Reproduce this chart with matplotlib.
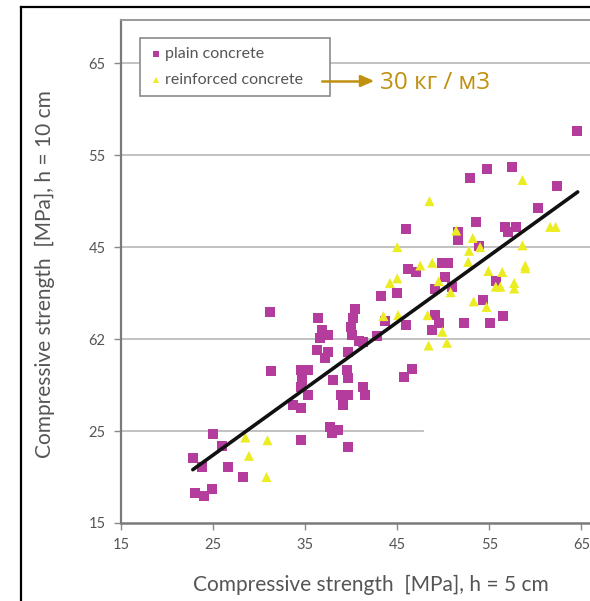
import matplotlib
matplotlib.use("Agg")
import matplotlib.pyplot as plt
from matplotlib.lines import Line2D

plain_x = [23.0, 24.0, 24.9, 22.8, 23.8, 25.0, 26.0, 26.6, 28.3, 31.2, 31.3, 34.5, 33.7, 34.5,
           34.6, 35.3, 34.5, 35.3, 34.7, 36.3, 37.5, 37.2, 36.4, 36.8, 37.5, 36.6, 38.0, 39.5,
           39.7, 38.9, 39.6, 39.1, 41.3, 41.5, 37.7, 38.6, 37.9, 39.7, 40.4, 40.2, 40.0, 40.1,
           40.8, 41.3, 39.7, 42.8, 43.7, 45.9, 45.7, 46.6, 43.2, 45.0, 49.1, 49.5, 48.8, 52.2,
           55.1, 56.5, 54.3, 55.7, 50.2, 49.1, 51.0, 46.2, 47.0, 49.9, 50.5, 46.0, 53.6, 51.6,
           51.6, 53.9, 52.9, 54.7, 57.5, 62.4, 60.3, 56.7, 57.9, 57.0, 64.5]
plain_y = [18.3, 17.9, 18.7, 22.1, 21.1, 24.7, 23.4, 21.1, 20.0, 37.9, 31.5, 24.0, 27.8, 27.5,
           29.8, 28.9, 31.6, 31.6, 30.5, 33.8, 33.6, 32.9, 37.3, 36.0, 35.4, 35.1, 30.5, 31.6,
           30.8, 28.9, 28.9, 27.8, 29.8, 28.9, 25.4, 25.1, 24.8, 23.3, 38.3, 37.3, 36.3, 35.4,
           34.8, 34.7, 33.6, 35.3, 37.0, 36.5, 30.9, 31.8, 39.7, 40.0, 37.6, 36.8, 36.0, 36.8,
           36.8, 37.5, 39.2, 41.3, 41.7, 40.4, 40.7, 42.6, 42.3, 43.3, 43.3, 47.0, 47.7, 46.6,
           45.8, 45.1, 52.5, 53.5, 53.7, 51.7, 49.3, 47.2, 47.2, 46.6, 57.6]

reinf_x = [28.5, 30.9, 28.9, 30.8, 43.5, 45.1, 44.2, 45.0, 48.3, 49.9, 48.4, 50.4, 53.3, 54.7,
           48.5, 45.0, 47.5, 48.8, 49.5, 50.8, 51.4, 53.2, 52.8, 52.7, 54.0, 54.9, 56.4, 55.7,
           56.2, 57.7, 57.7, 58.6, 58.9, 58.6, 61.6, 62.2, 58.9]
reinf_y = [24.3, 24.0, 22.3, 20.0, 37.5, 37.6, 41.1, 41.6, 37.6, 35.8, 34.3, 34.6, 39.1, 38.5,
           50.0, 45.0, 43.0, 43.3, 41.3, 40.1, 46.8, 46.0, 44.6, 43.4, 45.0, 42.4, 42.3, 40.7,
           40.7, 41.1, 40.5, 45.2, 43.0, 52.3, 47.2, 47.2, 42.7]

fit_x = [22.8, 64.6]
fit_y = [20.8, 51.0]

xticks = [15, 25, 35, 45, 55, 65]
xtick_labels = ["15", "25", "35", "45", "55", "65"]
yticks = [15, 25, 35, 45, 55, 65]
ytick_labels = ["15", "25", "62", "45", "55", "65"]

plt.rcParams['font.family'] = ['Lato', 'DejaVu Sans']

W, H = 590, 601
fig = plt.figure(figsize=(W / 100, H / 100), dpi=100)
ax = fig.add_axes([121 / W, 1 - 523 / H, 1 - 121 / W + 0.001, (523 - 20) / H])
ax.set_xlim(15, 66.0)
ax.set_ylim(15, 69.7)

gridc = "#bdbdbd"
for yv in [35, 45, 55, 65]:
    ax.axhline(yv, color=gridc, lw=1.3, zorder=1)
ax.axhline(25, xmin=0, xmax=(47.8 - 15) / (66.0 - 15), color=gridc, lw=1.3, zorder=1)

ax.scatter(plain_x, plain_y, marker="s", s=52, color="#b43c9c", edgecolors="none",
           zorder=3, label="plain concrete")
ax.scatter(reinf_x, reinf_y, marker="^", s=52, color="#ecec22", edgecolors="none",
           zorder=3, label="reinforced concrete")
ax.plot(fit_x, fit_y, color="#111111", lw=2.6, zorder=4, solid_capstyle="round")

ax.spines["right"].set_visible(False)
ax.spines["left"].set_color("#7a7a7a")
ax.spines["bottom"].set_color("#7a7a7a")
ax.spines["top"].set_color("#9a9a9a")
ax.spines["left"].set_linewidth(1.6)
ax.spines["bottom"].set_linewidth(1.8)
ax.spines["top"].set_linewidth(1.4)

ax.set_xticks(xticks)
ax.set_xticklabels(xtick_labels)
ax.set_yticks(yticks)
ax.set_yticklabels(ytick_labels)
ax.tick_params(axis="both", colors="#8a8a8a", labelcolor="#555555", labelsize=10.5,
               length=5, width=1, direction="out", pad=6)

ax_w = W - 121
ax_h = 523 - 20
ax.set_xlabel("Compressive strength  [MPa], h = 5 cm", fontsize=15, color="#555555")
ax.xaxis.set_label_coords((371 - 121) / ax_w, -(585 - 523) / ax_h)
ax.xaxis.label.set_va("center")
ax.set_ylabel("Compressive strength  [MPa], h = 10 cm", fontsize=15, color="#555555")
ax.yaxis.set_label_coords(-(121 - 45) / ax_w, (523 - 274) / ax_h)
ax.yaxis.label.set_va("center")

leg = ax.legend(loc="upper left",
                bbox_to_anchor=((140 - 121) / ax_w, 1 - (98 - 20) / ax_h,
                                (330 - 140) / ax_w, (98 - 38) / ax_h),
                mode="expand", frameon=True, fancybox=False, fontsize=11.5, handletextpad=0.1,
                handlelength=0.9, borderpad=0.55, labelspacing=0.75, markerscale=0.6,
                borderaxespad=0)
leg.get_frame().set_edgecolor("#8a8a8a")
leg.get_frame().set_linewidth(1.2)
leg.get_frame().set_facecolor("white")
leg.get_frame().set_alpha(1)
for t in leg.get_texts():
    t.set_color("#555555")
leg.set_zorder(5)

gold = "#c09010"
fig.add_artist(Line2D([322 / W, 366 / W], [1 - 81 / H, 1 - 81 / H], color=gold, lw=1.8, zorder=10))
ax.annotate("", xy=(377 / W, 1 - 81 / H), xytext=(360 / W, 1 - 81 / H),
            xycoords="figure fraction", textcoords="figure fraction",
            arrowprops=dict(arrowstyle="-|>,head_length=0.8,head_width=0.35", color=gold, lw=1.8),
            zorder=10)
fig.text(380 / W, 1 - 83 / H, "30 кг / м3", color=gold, fontsize=17.5, va="center", ha="left",
         family=["Open Sans", "DejaVu Sans"])

fig.add_artist(Line2D([21 / W, 21 / W], [0, 1 - 7 / H], color="black", lw=1.6))
fig.add_artist(Line2D([21 / W, 1], [1 - 7 / H, 1 - 7 / H], color="black", lw=1.6))

fig.savefig("out.png", dpi=100)
